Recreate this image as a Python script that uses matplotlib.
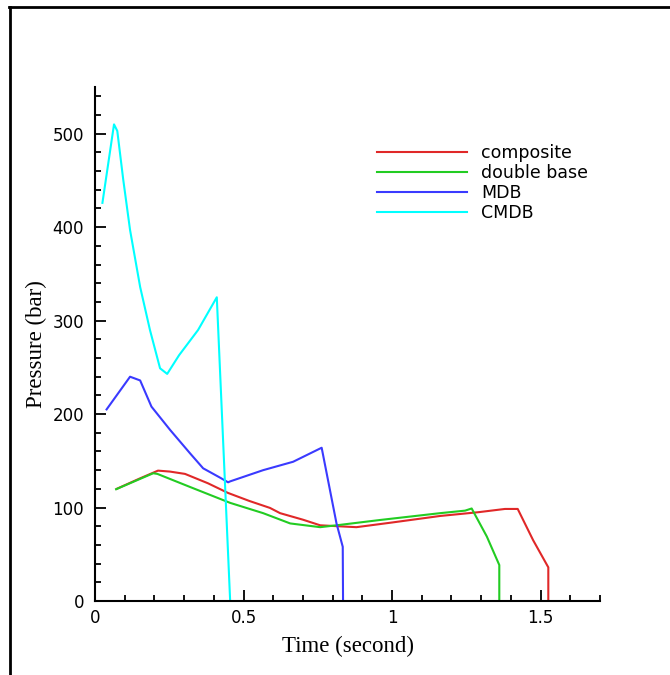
import matplotlib
matplotlib.use('Agg')
import matplotlib.pyplot as plt
from matplotlib.lines import Line2D
from matplotlib.ticker import MultipleLocator

# values
t_comp = [0.073, 0.15, 0.212, 0.252, 0.303, 0.38, 0.448, 0.52, 0.589, 0.623, 0.70, 0.758, 0.88, 1.0, 1.162, 1.29, 1.38, 1.423, 1.475, 1.526, 1.526]
p_comp = [120, 131, 139.5, 138.5, 136, 126, 115.6, 107, 99.6, 94, 87, 81, 79, 84, 91, 95, 98.5, 98.5, 65, 36, 0]

t_db = [0.071, 0.196, 0.21, 0.32, 0.455, 0.566, 0.657, 0.758, 0.813, 0.96, 1.162, 1.246, 1.268, 1.319, 1.361, 1.361]
p_db = [119.6, 136.7, 136, 122, 105, 94, 83, 79, 81, 86.7, 94, 96.7, 99, 69, 38.5, 0]

t_mdb = [0.039, 0.118, 0.152, 0.19, 0.253, 0.32, 0.364, 0.421, 0.448, 0.455, 0.566, 0.667, 0.763, 0.813, 0.834, 0.835]
p_mdb = [205, 240, 236, 208, 183, 158, 142, 132, 127, 128, 140, 149, 164, 83, 58, 0]

t_cmdb = [0.025, 0.064, 0.075, 0.095, 0.118, 0.152, 0.185, 0.219, 0.243, 0.283, 0.347, 0.41, 0.455]
p_cmdb = [426, 510, 503, 451, 397, 336, 290, 249, 243, 263, 290, 325, 0]

labels = ['composite', 'double base', 'MDB', 'CMDB']
colors = ['#e02828', '#22cc22', '#3a3aff', '#00ffff']

fig = plt.figure(figsize=(6.7, 6.75), dpi=100)
ax = fig.add_axes([95/670, 1-601/675, 505/670, 514/675])

ax.plot(t_comp, p_comp, color=colors[0], lw=1.5, label=labels[0])
ax.plot(t_db, p_db, color=colors[1], lw=1.5, label=labels[1])
ax.plot(t_mdb, p_mdb, color=colors[2], lw=1.5, label=labels[2])
ax.plot(t_cmdb, p_cmdb, color=colors[3], lw=1.5, label=labels[3])

ax.set_xlim(0, 1.7)
ax.set_ylim(0, 550)
ax.xaxis.set_major_locator(MultipleLocator(0.5))
ax.xaxis.set_minor_locator(MultipleLocator(0.1))
ax.yaxis.set_major_locator(MultipleLocator(100))
ax.yaxis.set_minor_locator(MultipleLocator(20))
ax.set_xticks([0, 0.5, 1, 1.5])
ax.set_xticklabels(['0', '0.5', '1', '1.5'])

for s in ['top', 'right']:
    ax.spines[s].set_visible(False)
for s in ['left', 'bottom']:
    ax.spines[s].set_linewidth(1.5)

ax.tick_params(which='major', direction='in', length=8, width=1.3, labelsize=12)
ax.tick_params(axis='y', which='major', pad=8)
ax.tick_params(axis='x', which='major', pad=6)
ax.tick_params(which='minor', direction='in', length=4.5, width=1.3)

ax.set_xlabel('Time (second)', family='Liberation Serif', fontsize=16.5, labelpad=6)
ax.set_ylabel('Pressure (bar)', family='Liberation Serif', fontsize=16.5, labelpad=4)

ax.legend(loc='upper left', bbox_to_anchor=(377/670, 1-144/675), bbox_transform=fig.transFigure,
          frameon=False, fontsize=12.5, handlelength=5.2, handletextpad=0.8,
          labelspacing=0.12, borderpad=0, borderaxespad=0)

# outer frame lines (top and left only, as in the reference)
fig.add_artist(Line2D([9/670, 1], [1-7/675, 1-7/675], transform=fig.transFigure, color='black', lw=2))
fig.add_artist(Line2D([10/670, 10/670], [0, 1-7/675], transform=fig.transFigure, color='black', lw=2))

fig.savefig('out.png', dpi=100)
